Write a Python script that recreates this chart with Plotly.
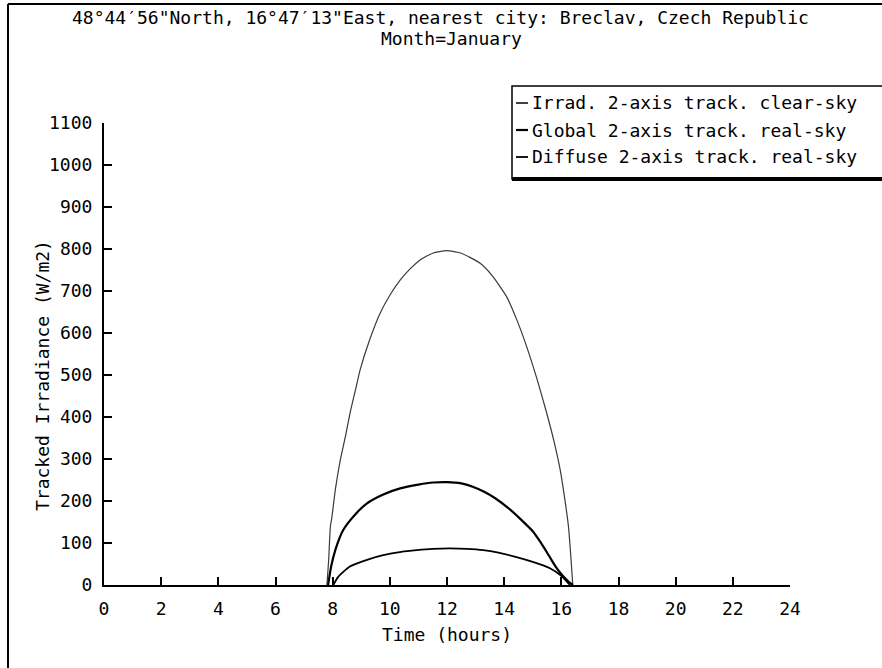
import plotly.graph_objects as go

# ---- data ----
clear_t = [7.80, 7.86, 7.92, 7.97, 8.10, 8.26, 8.45, 8.61, 8.80, 8.96, 9.30, 9.66, 10.00, 10.36, 10.70, 11.06, 11.50, 11.99, 12.50, 13.16, 13.60, 14.09, 14.45, 14.79, 15.15, 15.49, 15.75, 15.96, 16.12, 16.25, 16.33, 16.40]
clear_v = [0, 60, 139, 160, 230, 295, 355, 410, 465, 512, 585, 647, 690, 726, 752, 774, 790, 796, 790, 766, 735, 686, 630, 567, 490, 409, 340, 274, 205, 139, 70, 0]

glob_t = [7.84, 7.95, 8.10, 8.37, 8.75, 9.19, 9.75, 10.36, 11.00, 11.52, 12.00, 12.50, 12.90, 13.30, 13.70, 14.20, 14.60, 15.00, 15.30, 15.60, 15.80, 16.05, 16.25, 16.40]
glob_v = [0, 45, 85, 131, 165, 194, 215, 230, 239, 244, 245, 242, 234, 222, 206, 180, 155, 128, 99, 66, 44, 22, 8, 0]

diff_t = [8.02, 8.20, 8.60, 9.20, 9.77, 10.40, 10.94, 11.50, 12.10, 12.70, 13.27, 13.80, 14.40, 15.00, 15.60, 16.00, 16.30]
diff_v = [0, 20, 44, 60, 71, 79, 83, 86, 87, 86, 83, 77, 67, 55, 40, 22, 0]

series_names = ["Irrad. 2-axis track. clear-sky",
                "Global 2-axis track. real-sky",
                "Diffuse 2-axis track. real-sky"]
x_ticks = list(range(0, 25, 2))
y_ticks = list(range(0, 1101, 100))

title1 = "48°44′56\"North, 16°47′13\"East, nearest city: Breclav, Czech Republic"
title2 = "Month=January"
x_title = "Time (hours)"
y_title = "Tracked Irradiance (W/m2)"

# ---- layout geometry (pixels) ----
W, H = 882, 668
L, R, T, B = 104, 790, 123, 585
FONT = "DejaVu Sans Mono"
FS = 18


def px(x):
    return (x - L) / (R - L)


def py(y):
    return (B - y) / (B - T)


fig = go.Figure()
styles = [dict(color="#3a3a3a", width=1.2, shape="spline", smoothing=0.5),
          dict(color="black", width=2.2, shape="spline", smoothing=0.5),
          dict(color="black", width=1.8, shape="spline", smoothing=0.5)]
for (t, v), name, st in zip([(clear_t, clear_v), (glob_t, glob_v), (diff_t, diff_v)], series_names, styles):
    fig.add_trace(go.Scatter(x=t, y=v, mode="lines", name=name, line=st,
                             showlegend=False, cliponaxis=False))

fig.update_layout(
    width=W, height=H,
    margin=dict(l=L, r=W - R, t=T, b=H - B, pad=0),
    paper_bgcolor="white", plot_bgcolor="white",
    font=dict(family=FONT, size=FS, color="black"),
    showlegend=False,
)
fig.update_xaxes(range=[0, 24], tickvals=x_ticks, ticktext=[str(v) for v in x_ticks],
                 showgrid=False, zeroline=False, showline=True, linecolor="black", linewidth=2,
                 ticks="inside", ticklen=8, tickwidth=2, tickcolor="black",
                 ticklabelstandoff=6, tickfont=dict(family=FONT, size=FS))
fig.update_yaxes(range=[0, 1100], tickvals=y_ticks, ticktext=[str(v) for v in y_ticks],
                 showgrid=False, zeroline=False, showline=True, linecolor="black", linewidth=2,
                 ticks="inside", ticklen=8, tickwidth=2, tickcolor="black",
                 ticklabelstandoff=6, tickfont=dict(family=FONT, size=FS))

ann = []
ann.append(dict(x=px(440), y=py(18), xref="paper", yref="paper", text=title1, showarrow=False,
                xanchor="center", yanchor="middle", font=dict(family=FONT, size=FS)))
ann.append(dict(x=px(451), y=py(39), xref="paper", yref="paper", text=title2, showarrow=False,
                xanchor="center", yanchor="middle", font=dict(family=FONT, size=FS)))
ann.append(dict(x=px(447), y=py(634), xref="paper", yref="paper", text=x_title, showarrow=False,
                xanchor="center", yanchor="middle", font=dict(family=FONT, size=FS)))
ann.append(dict(x=px(42), y=py(376), xref="paper", yref="paper", text=y_title, showarrow=False,
                textangle=-90, xanchor="center", yanchor="middle", font=dict(family=FONT, size=FS)))

shapes = []
# outer frame (left and top edges)
shapes.append(dict(type="line", xref="paper", yref="paper", x0=px(8), x1=px(8), y0=py(4), y1=py(H + 5),
                   line=dict(color="black", width=2)))
shapes.append(dict(type="line", xref="paper", yref="paper", x0=px(8), x1=px(W + 5), y0=py(4), y1=py(4),
                   line=dict(color="black", width=2)))
# legend box
shapes.append(dict(type="rect", xref="paper", yref="paper", x0=px(512), x1=px(W + 10), y0=py(86), y1=py(179),
                   line=dict(color="black", width=1.5), fillcolor="white"))
shapes.append(dict(type="line", xref="paper", yref="paper", x0=px(512), x1=px(W + 5), y0=py(179), y1=py(179),
                   line=dict(color="black", width=4)))
leg_y = [103, 130, 157]
for yy, name, st in zip(leg_y, series_names, styles):
    shapes.append(dict(type="line", xref="paper", yref="paper", x0=px(516), x1=px(528), y0=py(yy), y1=py(yy),
                       line=dict(color="black", width=max(1.5, st["width"]))))
    ann.append(dict(x=px(530), y=py(yy), xref="paper", yref="paper", text=name, showarrow=False,
                    xanchor="left", yanchor="middle", font=dict(family=FONT, size=FS)))

fig.update_layout(annotations=ann, shapes=shapes)
fig.write_html("out.html")
